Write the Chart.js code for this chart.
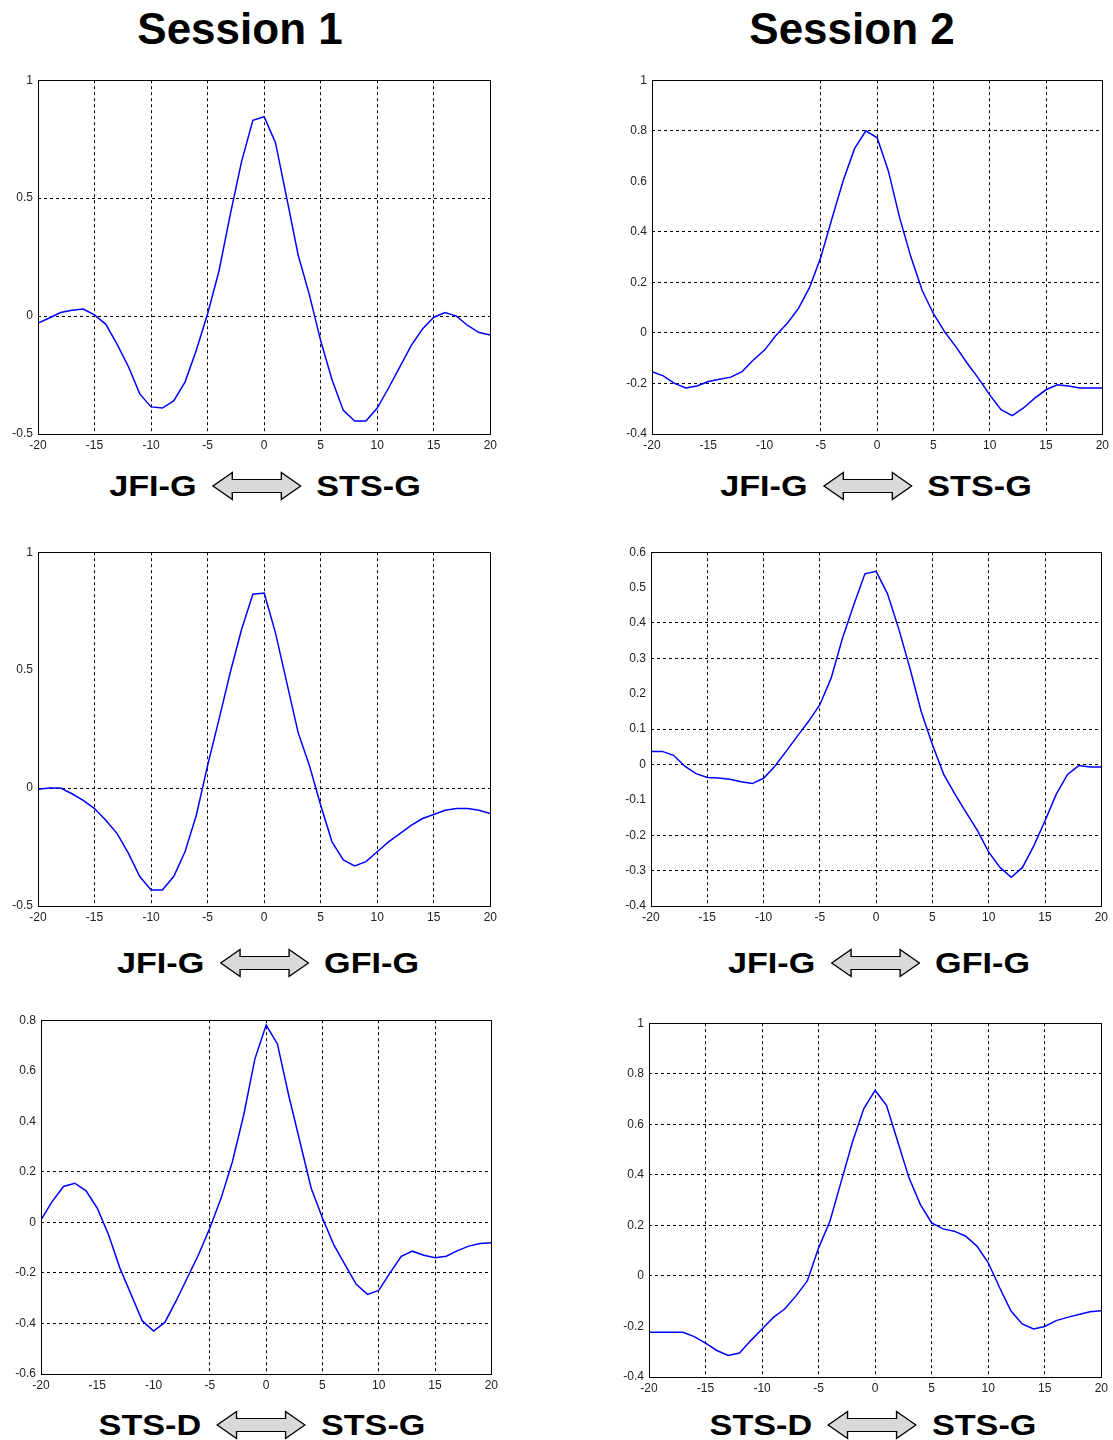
<!DOCTYPE html>
<html>
<head>
<meta charset="utf-8">
<script src="https://cdn.jsdelivr.net/npm/chart.js@4.4.1/dist/chart.umd.min.js"></script>
<style>
  body { margin: 0; background: #fff; width: 1113px; height: 1440px; position: relative; overflow: hidden;
         font-family: "Liberation Sans", Arial, sans-serif; }
  .title { position: absolute; font-weight: bold; font-size: 44px; line-height: 1; color: #000;
           transform: translate(-50%, -50%); white-space: nowrap; }
  .pair { position: absolute; display: flex; align-items: center; gap: 13px; font-weight: bold; font-size: 30px;
          line-height: 1; color: #000; white-space: nowrap; transform: translate(-50%, -50%) scaleX(1.14); }
  .pair svg { display: block; }
  .panel { position: absolute; }
</style>
</head>
<body>

<div class="title" style="left:240px; top:29px">Session 1</div>
<div class="title" style="left:852px; top:29px">Session 2</div>

<div class="panel" id="p1"><canvas id="c1"></canvas></div>
<div class="panel" id="p2"><canvas id="c2"></canvas></div>
<div class="panel" id="p3"><canvas id="c3"></canvas></div>
<div class="panel" id="p4"><canvas id="c4"></canvas></div>
<div class="panel" id="p5"><canvas id="c5"></canvas></div>
<div class="panel" id="p6"><canvas id="c6"></canvas></div>

<script>
// lag axis (shared by all six cross-correlation plots)
const lags = [-20, -19, -18, -17, -16, -15, -14, -13, -12, -11, -10, -9, -8, -7, -6, -5, -4, -3, -2, -1, 0,
              1, 2, 3, 4, 5, 6, 7, 8, 9, 10, 11, 12, 13, 14, 15, 16, 17, 18, 19, 20];
const xTicks = [-20, -15, -10, -5, 0, 5, 10, 15, 20];

// Session 1
const s1JfiSts = [-0.03, -0.008, 0.015, 0.025, 0.03, 0.005, -0.035, -0.12, -0.215, -0.33, -0.385, -0.39, -0.36, -0.28, -0.145, 0.01,
                  0.19, 0.43, 0.655, 0.83, 0.845, 0.735, 0.5, 0.26, 0.09, -0.105, -0.27, -0.4, -0.445, -0.445, -0.39,
                  -0.305, -0.215, -0.125, -0.055, -0.005, 0.015, 0.0, -0.04, -0.07, -0.08];
const s1JfiGfi = [-0.005, 0.0, 0.0, -0.024, -0.052, -0.087, -0.136, -0.193, -0.277, -0.375, -0.432, -0.432, -0.375, -0.27, -0.115, 0.096,
                  0.29, 0.49, 0.672, 0.822, 0.827, 0.658, 0.447, 0.236, 0.096, -0.073, -0.228, -0.305, -0.33, -0.312, -0.27,
                  -0.228, -0.193, -0.158, -0.129, -0.112, -0.094, -0.087, -0.087, -0.094, -0.108];
const s1StsdSts = [0.01, 0.083, 0.142, 0.155, 0.125, 0.056, -0.049, -0.18, -0.285, -0.39, -0.43, -0.396, -0.311, -0.219, -0.127, -0.022,
                   0.096, 0.24, 0.424, 0.647, 0.781, 0.706, 0.503, 0.319, 0.135, 0.017, -0.088, -0.167, -0.245, -0.285, -0.269,
                   -0.2, -0.134, -0.114, -0.13, -0.14, -0.134, -0.112, -0.094, -0.084, -0.081];

// Session 2
const s2JfiSts = [-0.153, -0.17, -0.2, -0.218, -0.21, -0.192, -0.183, -0.175, -0.153, -0.107, -0.068, -0.01, 0.037, 0.096, 0.18, 0.3,
                  0.455, 0.605, 0.73, 0.8, 0.772, 0.64, 0.455, 0.3, 0.168, 0.076, 0.004, -0.055, -0.12, -0.18, -0.245,
                  -0.304, -0.327, -0.297, -0.258, -0.225, -0.205, -0.21, -0.218, -0.218, -0.218];
const s2JfiGfi = [0.037, 0.037, 0.026, -0.005, -0.026, -0.037, -0.038, -0.042, -0.049, -0.054, -0.039, -0.005, 0.037, 0.08, 0.122, 0.169,
                  0.244, 0.356, 0.45, 0.539, 0.546, 0.483, 0.384, 0.272, 0.15, 0.056, -0.028, -0.084, -0.136, -0.187, -0.248,
                  -0.291, -0.319, -0.291, -0.23, -0.159, -0.084, -0.028, -0.003, -0.007, -0.007];
const s2StsdSts = [-0.223, -0.223, -0.223, -0.223, -0.24, -0.266, -0.295, -0.315, -0.305, -0.256, -0.21, -0.164, -0.131, -0.079, -0.02, 0.111,
                   0.216, 0.374, 0.531, 0.662, 0.734, 0.675, 0.531, 0.387, 0.282, 0.21, 0.186, 0.177, 0.157, 0.118, 0.052,
                   -0.046, -0.138, -0.19, -0.21, -0.2, -0.177, -0.164, -0.153, -0.142, -0.138];

// y tick labels per plot
const yTicksHalf = [-0.5, 0, 0.5, 1];
const yTicksFifth = [-0.4, -0.2, 0, 0.2, 0.4, 0.6, 0.8, 1];
const yTicksTenth = [-0.4, -0.3, -0.2, -0.1, 0, 0.1, 0.2, 0.3, 0.4, 0.5, 0.6];
const yTicksStsd = [-0.6, -0.4, -0.2, 0, 0.2, 0.4, 0.6, 0.8];

// box around the axes, like a MATLAB plot
const framePlugin = {
  id: 'frame',
  afterDraw(chart) {
    const { ctx, chartArea: a } = chart;
    ctx.save();
    ctx.strokeStyle = '#000';
    ctx.lineWidth = 1;
    ctx.setLineDash([]);
    ctx.strokeRect(Math.round(a.left) + 0.5, Math.round(a.top) + 0.5,
                   Math.round(a.right - a.left), Math.round(a.bottom - a.top));
    ctx.restore();
  }
};

const Y_AXIS_W = 40, X_AXIS_H = 22, PAD_TOP = 10, PAD_RIGHT = 10;

function makePanel(n, values, yTicks, xGridOn, yGridOn, plotLeft, plotTop, plotW, plotH) {
  const wrap = document.getElementById('p' + n);
  const canvas = document.getElementById('c' + n);
  const w = plotW + Y_AXIS_W + PAD_RIGHT, h = plotH + PAD_TOP + X_AXIS_H;
  wrap.style.left = (plotLeft - Y_AXIS_W) + 'px';
  wrap.style.top = (plotTop - PAD_TOP) + 'px';
  canvas.width = w; canvas.height = h;
  canvas.style.width = w + 'px'; canvas.style.height = h + 'px';

  const gridColor = (shown) => (c) => shown.includes(c.tick.value) ? '#000' : 'rgba(0,0,0,0)';
  const tickFont = { family: '"Liberation Sans", Arial, sans-serif', size: 12 };

  return new Chart(canvas.getContext('2d'), {
    type: 'line',
    data: {
      datasets: [{
        data: lags.map((x, i) => ({ x, y: values[i] })),
        borderColor: '#0000ff',
        borderWidth: 1.5,
        pointRadius: 0,
        tension: 0,
        fill: false
      }]
    },
    options: {
      responsive: false,
      animation: false,
      devicePixelRatio: 1,
      layout: { padding: { top: PAD_TOP, right: PAD_RIGHT, left: 0, bottom: 0 } },
      plugins: { legend: { display: false }, tooltip: { enabled: false } },
      scales: {
        x: {
          type: 'linear',
          min: -20, max: 20,
          afterBuildTicks: (s) => { s.ticks = xTicks.map(v => ({ value: v })); },
          afterFit: (s) => { s.height = X_AXIS_H; },
          grid: { color: gridColor(xGridOn), lineWidth: 1, drawTicks: false },
          border: { display: false, dash: [3, 3] },
          ticks: { color: '#222', font: tickFont, padding: 4, maxRotation: 0, autoSkip: false,
                   callback: (v) => String(v) }
        },
        y: {
          min: yTicks[0], max: yTicks[yTicks.length - 1],
          afterBuildTicks: (s) => { s.ticks = yTicks.map(v => ({ value: v })); },
          afterFit: (s) => { s.width = Y_AXIS_W; },
          grid: { color: gridColor(yGridOn), lineWidth: 1, drawTicks: false },
          border: { display: false, dash: [3, 3] },
          ticks: { color: '#222', font: tickFont, padding: 5, autoSkip: false,
                   callback: (v) => String(v) }
        }
      }
    },
    plugins: [framePlugin]
  });
}

makePanel(1, s1JfiSts, yTicksHalf, [-15, -10, -5, 0, 5, 10, 15], [0, 0.5], 38, 78, 453, 356);
makePanel(2, s2JfiSts, yTicksFifth, [-5, 0, 5, 10, 15], [-0.2, 0, 0.2, 0.4, 0.8], 652, 78, 451, 356);
makePanel(3, s1JfiGfi, yTicksHalf, [-15, -10, -5, 0, 5, 10, 15], [0], 38, 550, 453, 356);
makePanel(4, s2JfiGfi, yTicksTenth, [-15, -10, -5, 0, 5, 10, 15], [-0.3, -0.2, 0, 0.1, 0.3, 0.4], 651, 550, 451, 356);
makePanel(5, s1StsdSts, yTicksStsd, [-5, 0, 5, 10, 15], [-0.4, -0.2, 0, 0.2], 41, 1018, 451, 356);
makePanel(6, s2StsdSts, yTicksFifth, [-15, -10, -5, 0, 5, 10, 15], [0, 0.2, 0.4, 0.6, 0.8], 649, 1021, 453, 356);

// region-pair captions under each plot
const arrowSvg = '<svg width="79" height="30" viewBox="0 0 79 30">' +
  '<polygon points="1,15 18,1.5 18,8.5 61,8.5 61,1.5 78,15 61,28.5 61,21.5 18,21.5 18,28.5" ' +
  'fill="#d9d9d9" stroke="#000" stroke-width="1.2" stroke-linejoin="miter"/></svg>';
const captions = [
  ['JFI-G', 'STS-G', 265, 486],
  ['JFI-G', 'STS-G', 876, 486],
  ['JFI-G', 'GFI-G', 268, 963],
  ['JFI-G', 'GFI-G', 879, 963],
  ['STS-D', 'STS-G', 262, 1425],
  ['STS-D', 'STS-G', 873, 1425]
];
captions.forEach(([a, b, cx, cy]) => {
  const d = document.createElement('div');
  d.className = 'pair';
  d.style.left = cx + 'px';
  d.style.top = cy + 'px';
  d.innerHTML = '<span>' + a + '</span>' + arrowSvg + '<span>' + b + '</span>';
  document.body.appendChild(d);
});
</script>
</body>
</html>
